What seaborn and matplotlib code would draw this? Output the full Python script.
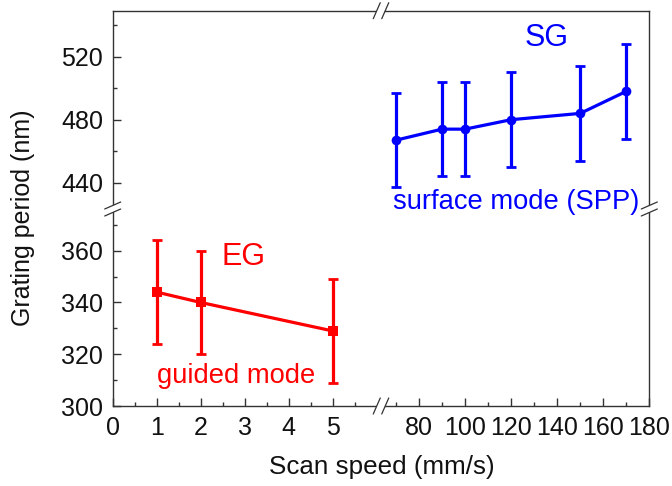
import matplotlib
matplotlib.use("Agg")
import matplotlib.pyplot as plt
import seaborn as sns
import pandas as pd
from matplotlib.lines import Line2D
from matplotlib.patches import Polygon

# ---- data ----
eg_speed = [1, 2, 5]
eg_period = [344, 340, 329]
eg_err = [20, 20, 20]

sg_speed = [70, 90, 100, 120, 150, 170]
sg_period = [467, 474, 474, 480, 484, 498]
sg_err = [30, 30, 30, 30, 30, 30]

x_left_ticks = [0, 1, 2, 3, 4, 5]
x_right_ticks = [80, 100, 120, 140, 160, 180]
y_bottom_ticks = [300, 320, 340, 360]
y_top_ticks = [440, 480, 520]

sns.set_style("ticks")
plt.rcParams['font.family'] = ['Liberation Sans', 'DejaVu Sans']

W, H = 672, 486
fig = plt.figure(figsize=(W / 100, H / 100), dpi=100)

x0, xm, x1 = 112.7, 381.0, 649.3
y0, ym, y1 = 10.7, 209.0, 406.0

def rect(l, t, r, b):
    return [l / W, 1 - b / H, (r - l) / W, (b - t) / H]

ax_tl = fig.add_axes(rect(x0, y0, xm, ym))
ax_tr = fig.add_axes(rect(xm, y0, x1, ym))
ax_bl = fig.add_axes(rect(x0, ym, xm, y1))
ax_br = fig.add_axes(rect(xm, ym, x1, y1))

XL = (0, 6.1)
XR = (63.5, 180)
YB = (300, 376.1)
YT = (423.3, 549.2)

for ax in (ax_tl, ax_bl):
    ax.set_xlim(*XL)
for ax in (ax_tr, ax_br):
    ax.set_xlim(*XR)
for ax in (ax_tl, ax_tr):
    ax.set_ylim(*YT)
for ax in (ax_bl, ax_br):
    ax.set_ylim(*YB)

spine_col = '#333333'
for ax in (ax_tl, ax_tr, ax_bl, ax_br):
    ax.set_facecolor('none')
    for s in ax.spines.values():
        s.set_color(spine_col)
        s.set_linewidth(1.0)
    ax.tick_params(which='both', direction='in', colors=spine_col,
                   labelcolor='#111111', labelsize=18, width=1.0)
    ax.tick_params(which='major', length=6)
    ax.tick_params(which='minor', length=3)
    ax.set_xlabel('')
    ax.set_ylabel('')

ax_tl.spines['right'].set_visible(False)
ax_tl.spines['bottom'].set_visible(False)
ax_tr.spines['left'].set_visible(False)
ax_tr.spines['bottom'].set_visible(False)
ax_bl.spines['top'].set_visible(False)
ax_bl.spines['right'].set_visible(False)
ax_br.spines['top'].set_visible(False)
ax_br.spines['left'].set_visible(False)

# ticks
ax_tl.set_xticks([])
ax_tr.set_xticks([])
ax_tr.set_yticks([])
ax_br.set_yticks([])
ax_tl.set_yticks(y_top_ticks)
ax_tl.set_yticks([460, 500, 540], minor=True)
ax_bl.set_yticks(y_bottom_ticks)
ax_bl.set_yticks([310, 330, 350, 370], minor=True)
ax_bl.set_xticks(x_left_ticks)
ax_bl.set_xticks([0.5, 1.5, 2.5, 3.5, 4.5, 5.5], minor=True)
ax_br.set_xticks(x_right_ticks)
ax_br.set_xticks([70, 90, 110, 130, 150, 170], minor=True)
ax_tl.tick_params(axis='y', pad=7)
ax_bl.tick_params(axis='y', pad=7)
ax_bl.tick_params(axis='x', pad=7)
ax_br.tick_params(axis='x', pad=7)

# data
eg_df = pd.DataFrame({'speed': eg_speed, 'period': eg_period})
sg_df = pd.DataFrame({'speed': sg_speed, 'period': sg_period})

red = '#ff0000'
blue = '#0000ff'
ax_bl.errorbar(eg_speed, eg_period, yerr=eg_err, fmt='none', ecolor=red,
               elinewidth=2.3, capsize=3.6, capthick=2.0, clip_on=False, zorder=3)
sns.lineplot(data=eg_df, x='speed', y='period', ax=ax_bl, color=red, lw=2.3,
             marker='s', markersize=6.5, markeredgewidth=0, zorder=4, clip_on=False)
ax_tr.errorbar(sg_speed, sg_period, yerr=sg_err, fmt='none', ecolor=blue,
               elinewidth=2.3, capsize=3.6, capthick=2.0, clip_on=False, zorder=3)
sns.lineplot(data=sg_df, x='speed', y='period', ax=ax_tr, color=blue, lw=2.3,
             marker='o', markersize=7, markeredgewidth=0, zorder=4, clip_on=False)
for ax in (ax_bl, ax_tr):
    ax.set_xlabel('')
    ax.set_ylabel('')

# annotations
ax_tr.text(135.5, 532, 'SG', color=blue, fontsize=22, ha='center', va='center')
ax_tr.text(122.4, 427.5, 'surface mode (SPP)', color=blue, fontsize=19.7,
           ha='center', va='center', clip_on=False)
ax_bl.text(2.97, 357.7, 'EG', color=red, fontsize=22, ha='center', va='center')
ax_bl.text(2.81, 311.6, 'guided mode', color=red, fontsize=19.7,
           ha='center', va='center')

fig.text(23 / W, 1 - 218 / H, 'Grating period (nm)', rotation=90,
         fontsize=18, ha='center', va='center', color='#111111')
fig.text(381.5 / W, 1 - 467 / H, 'Scan speed (mm/s)',
         fontsize=18.7, ha='center', va='center', color='#111111')

# break marks
def P(x, y):
    return (x / W, 1 - y / H)

def hbreak(cx, cy):
    # on a horizontal spine
    dx, dy, sep = 3.5, 8, 8.5
    a = [(cx - sep / 2 - dx, cy + dy), (cx - sep / 2 + dx, cy - dy)]
    b = [(cx + sep / 2 - dx, cy + dy), (cx + sep / 2 + dx, cy - dy)]
    poly = Polygon([P(*a[0]), P(*a[1]), P(*b[1]), P(*b[0])], closed=True,
                   transform=fig.transFigure, facecolor='white', edgecolor='none', zorder=10)
    fig.add_artist(poly)
    for seg in (a, b):
        fig.add_artist(Line2D([P(*seg[0])[0], P(*seg[1])[0]], [P(*seg[0])[1], P(*seg[1])[1]],
                              transform=fig.transFigure, color=spine_col, lw=0.9, zorder=11))

def vbreak(cx, cy):
    dx, dy, sep = 8, 3.5, 7
    a = [(cx - dx, cy - sep / 2 + dy), (cx + dx, cy - sep / 2 - dy)]
    b = [(cx - dx, cy + sep / 2 + dy), (cx + dx, cy + sep / 2 - dy)]
    poly = Polygon([P(*a[0]), P(*a[1]), P(*b[1]), P(*b[0])], closed=True,
                   transform=fig.transFigure, facecolor='white', edgecolor='none', zorder=10)
    fig.add_artist(poly)
    for seg in (a, b):
        fig.add_artist(Line2D([P(*seg[0])[0], P(*seg[1])[0]], [P(*seg[0])[1], P(*seg[1])[1]],
                              transform=fig.transFigure, color=spine_col, lw=0.9, zorder=11))

hbreak(xm, y0)
hbreak(xm, y1)
vbreak(x0, ym)
vbreak(x1, ym)

fig.savefig('out.png', dpi=100)
